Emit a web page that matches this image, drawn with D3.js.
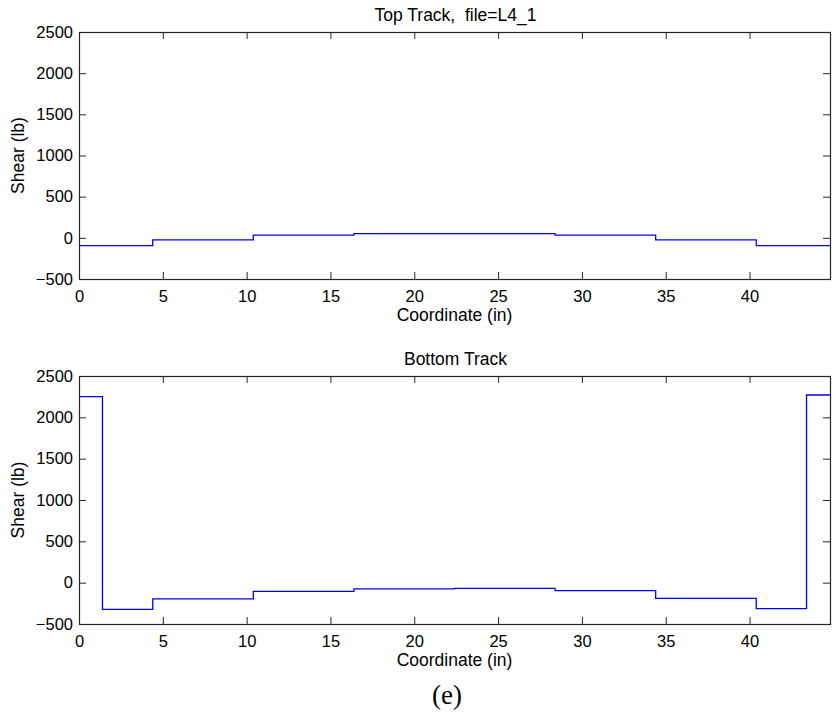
<!DOCTYPE html>
<html><head><meta charset="utf-8">
<script src="https://cdn.jsdelivr.net/npm/d3@7"></script>
<style>
body{margin:0;background:#fff;}
text{font-family:"Liberation Sans",Arial,sans-serif;}
</style></head>
<body><svg id="c" width="836" height="719"></svg>
<script>
const xTicks = [0,5,10,15,20,25,30,35,40];
const yTicks = [-500,0,500,1000,1500,2000,2500];
const xEdgesTop = [0,4.4,10.4,16.4,22.4,28.4,34.4,40.4,44.8];
const topShear = [-95,-25,32,50,50,32,-25,-95];
const xEdgesBottom = [0,1.4,4.4,10.4,16.4,22.4,28.4,34.4,40.4,43.4,44.8];
const bottomShear = [2250,-322,-197,-105,-76,-69,-97,-189,-314,2270];
const titles = ["Top Track,  file=L4_1","Bottom Track"];
const xLabel = "Coordinate (in)";
const yLabel = "Shear (lb)";
const caption = "(e)";

const svg = d3.select("#c");
const L = 79, R = 830;
const panels = [
  {top:32, bottom:279, edges:xEdgesTop, vals:topShear, title:titles[0]},
  {top:376, bottom:624, edges:xEdgesBottom, vals:bottomShear, title:titles[1]}
];
const axisColor = "#262626";

panels.forEach(p=>{
  const x = d3.scaleLinear().domain([0,44.8]).range([L,R]);
  const y = d3.scaleLinear().domain([-500,2500]).range([p.bottom,p.top]);
  const g = svg.append("g");
  const pts = p.vals.map((v,i)=>[p.edges[i],v]);
  pts.push([p.edges[p.edges.length-1], p.vals[p.vals.length-1]]);
  const line = d3.line().x(d=>x(d[0])).y(d=>y(d[1])).curve(d3.curveStepAfter);
  g.append("path").attr("d",line(pts)).attr("fill","none").attr("stroke","#0000ff").attr("stroke-width",1.3);

  const styleAxis = sel=>{
    sel.select(".domain").remove();
    sel.selectAll("line").attr("stroke",axisColor);
    sel.selectAll("text").attr("fill","#000").style("font-size","16.5px").attr("font-family","Liberation Sans, Arial, sans-serif");
  };
  g.append("g").attr("transform",`translate(0,${p.bottom})`)
    .call(d3.axisBottom(x).tickValues(xTicks).tickSize(-7).tickPadding(11).tickFormat(d3.format("d"))).call(styleAxis);
  g.append("g").attr("transform",`translate(0,${p.top})`)
    .call(d3.axisTop(x).tickValues(xTicks).tickSize(-7).tickFormat("")).call(styleAxis);
  g.append("g").attr("transform",`translate(${L},0)`)
    .call(d3.axisLeft(y).tickValues(yTicks).tickSize(-7).tickPadding(6).tickFormat(d3.format("d"))).call(styleAxis);
  g.append("g").attr("transform",`translate(${R},0)`)
    .call(d3.axisRight(y).tickValues(yTicks).tickSize(-7).tickFormat("")).call(styleAxis);
  g.append("rect").attr("x",L+0.5).attr("y",p.top+0.5).attr("width",R-L).attr("height",p.bottom-p.top)
    .attr("fill","none").attr("stroke",axisColor).attr("stroke-width",1.2);

  g.append("text").attr("x",(L+R)/2+1).attr("y",p.top-11).attr("text-anchor","middle").style("font-size","17.5px").style("white-space","pre").text(p.title);
  g.append("text").attr("x",(L+R)/2).attr("y",p.bottom+42).attr("text-anchor","middle").style("font-size","17.5px").text(xLabel);
  g.append("text").attr("transform",`translate(24,${(p.top+p.bottom)/2}) rotate(-90)`).attr("text-anchor","middle").style("font-size","17.5px").text(yLabel);
});
svg.append("text").attr("x",447).attr("y",704).attr("text-anchor","middle")
  .style("font-family","Liberation Serif, serif").style("font-size","27px").text(caption);
</script></body></html>
